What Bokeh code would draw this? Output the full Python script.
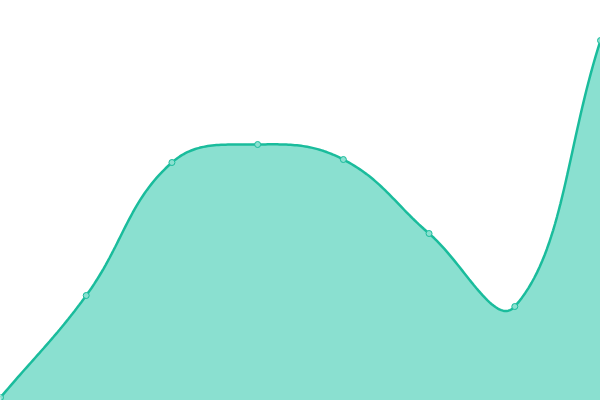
import numpy as np
from bokeh.plotting import figure
from bokeh.models import ColumnDataSource, Range1d
from bokeh.embed import file_html
from bokeh.resources import INLINE

# data
labels = ["1", "2", "3", "4", "5", "6", "7", "8"]
values = [3, 105, 238, 256, 241, 167, 94, 360]

LINE = "#1abc9c"
FILL = "#8ae0d0"

W, H = 600, 400
x = np.arange(len(values), dtype=float)
y = np.array(values, dtype=float)

# Chart.js-like spline (tension 0.4) computed in pixel-proportional units
ymax = 400.0
sx = W / (len(values) - 1)
sy = H / ymax
px, py = x * sx, y * sy
t = 0.4
n = len(px)
cps = []
for i in range(n):
    pi = max(i - 1, 0)
    ni = min(i + 1, n - 1)
    d01 = np.hypot(px[i] - px[pi], py[i] - py[pi])
    d12 = np.hypot(px[ni] - px[i], py[ni] - py[i])
    s = d01 + d12
    fa = d01 / s if s else 0
    fb = d12 / s if s else 0
    dx, dy = px[ni] - px[pi], py[ni] - py[pi]
    cps.append(((px[i] - fa * t * dx, py[i] - fa * t * dy),
                (px[i] + fb * t * dx, py[i] + fb * t * dy)))
cx, cy = [], []
tt = np.linspace(0, 1, 40)
for i in range(n - 1):
    p0 = np.array([px[i], py[i]])
    p1 = np.array(cps[i][1])
    p2 = np.array(cps[i + 1][0])
    p3 = np.array([px[i + 1], py[i + 1]])
    b = ((1 - tt) ** 3)[:, None] * p0 + (3 * (1 - tt) ** 2 * tt)[:, None] * p1 \
        + (3 * (1 - tt) * tt ** 2)[:, None] * p2 + (tt ** 3)[:, None] * p3
    cx.extend(b[:, 0] / sx)
    cy.extend(b[:, 1] / sy)
cy = np.clip(np.array(cy), 0, ymax)
cx = np.array(cx)

p = figure(width=W, height=H, output_backend="svg", toolbar_location=None,
           x_range=Range1d(0, len(values) - 1), y_range=Range1d(0, ymax),
           min_border=0, outline_line_color=None)
p.axis.visible = False
p.grid.visible = False
p.background_fill_color = "white"
p.border_fill_color = "white"

p.varea(x=cx, y1=np.zeros_like(cy), y2=cy, fill_color=FILL, fill_alpha=1.0)
p.line(cx, cy, line_color=LINE, line_width=2.5)
src = ColumnDataSource(dict(x=x, y=y, label=labels))
p.scatter("x", "y", source=src, size=6, fill_color=FILL, line_color=LINE, line_width=1)

open("out.html", "w").write(file_html(p, INLINE))
